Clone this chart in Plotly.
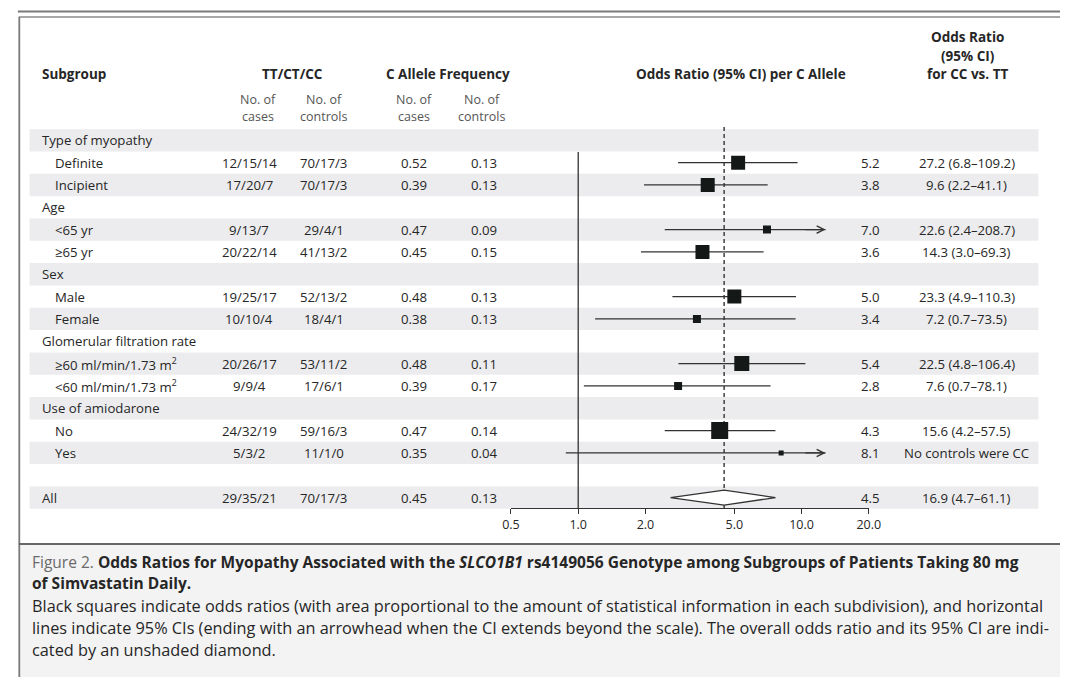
import math
import plotly.graph_objects as go

W, H = 1072, 677

# ---------------- data ----------------
subgroups = ["Type of myopathy", "Definite", "Incipient", "Age", "<65 yr", "≥65 yr",
             "Sex", "Male", "Female", "Glomerular filtration rate",
             "≥60 ml/min/1.73 m<sup>2</sup>", "<60 ml/min/1.73 m<sup>2</sup>",
             "Use of amiodarone", "No", "Yes", "", "All"]
is_header = [True, False, False, True, False, False, True, False, False, True,
             False, False, True, False, False, True, True]
tt_cases = ["", "12/15/14", "17/20/7", "", "9/13/7", "20/22/14", "", "19/25/17", "10/10/4",
            "", "20/26/17", "9/9/4", "", "24/32/19", "5/3/2", "", "29/35/21"]
tt_controls = ["", "70/17/3", "70/17/3", "", "29/4/1", "41/13/2", "", "52/13/2", "18/4/1",
               "", "53/11/2", "17/6/1", "", "59/16/3", "11/1/0", "", "70/17/3"]
freq_cases = ["", "0.52", "0.39", "", "0.47", "0.45", "", "0.48", "0.38",
              "", "0.48", "0.39", "", "0.47", "0.35", "", "0.45"]
freq_controls = ["", "0.13", "0.13", "", "0.09", "0.15", "", "0.13", "0.13",
                 "", "0.11", "0.17", "", "0.14", "0.04", "", "0.13"]
or_allele = [None, 5.2, 3.8, None, 7.0, 3.6, None, 5.0, 3.4, None, 5.4, 2.8, None, 4.3, 8.1, None, 4.5]
ci_low = [None, 2.8, 1.97, None, 2.44, 1.91, None, 2.64, 1.19, None, 2.81, 1.06, None, 2.44, 0.88, None, 2.59]
ci_high = [None, 9.6, 7.05, None, 12.8, 6.76, None, 9.44, 9.4, None, 10.4, 7.26, None, 7.64, 12.8, None, 7.64]
ci_arrow = [False, False, False, False, True, False, False, False, False, False,
            False, False, False, False, True, False, False]
square_size = [0, 14, 14, 0, 8, 14, 0, 14, 8, 0, 15, 8, 0, 17, 5, 0, 0]
or_cc = ["", "27.2 (6.8–109.2)", "9.6 (2.2–41.1)", "", "22.6 (2.4–208.7)", "14.3 (3.0–69.3)", "",
         "23.3 (4.9–110.3)", "7.2 (0.7–73.5)", "", "22.5 (4.8–106.4)", "7.6 (0.7–78.1)", "",
         "15.6 (4.2–57.5)", "No controls were CC", "", "16.9 (4.7–61.1)"]
tick_vals = [0.5, 1.0, 2.0, 5.0, 10.0, 20.0]
tick_text = ["0.5", "1.0", "2.0", "5.0", "10.0", "20.0"]

# ---------------- geometry helpers ----------------
ROW0, ROWH = 140.3, 22.33
AX_BOTTOM = 508
def px(x): return x / W
def py(y): return 1 - y / H
def row_pix(i): return ROW0 + ROWH * i
def pix_row(p): return (p - ROW0) / ROWH

FONT = "Open Sans"
TXT = "#262626"
n = len(subgroups)
summary = n - 1

fig = go.Figure()

# CI lines
xs, ys = [], []
for i in range(n):
    if or_allele[i] is None or i == summary:
        continue
    xs += [ci_low[i], ci_high[i], None]
    ys += [i, i, None]
fig.add_trace(go.Scatter(x=xs, y=ys, mode="lines", line=dict(color="#333333", width=1.3),
                         hoverinfo="skip", showlegend=False))

# reference line at 1.0 and dashed line at overall OR
fig.add_trace(go.Scatter(x=[1.0, 1.0], y=[pix_row(152), pix_row(AX_BOTTOM)], mode="lines",
                         line=dict(color="#333333", width=1.3), showlegend=False, hoverinfo="skip"))
fig.add_trace(go.Scatter(x=[or_allele[summary]] * 2, y=[pix_row(127), pix_row(AX_BOTTOM)], mode="lines",
                         line=dict(color="#333333", width=1.4, dash="4px,3px"), showlegend=False, hoverinfo="skip"))

# squares
sq_idx = [i for i in range(n) if or_allele[i] is not None and i != summary]
fig.add_trace(go.Scatter(x=[or_allele[i] for i in sq_idx], y=sq_idx, mode="markers",
                         marker=dict(symbol="square", size=[square_size[i] for i in sq_idx],
                                     color="#141918", opacity=1, line=dict(width=0)),
                         showlegend=False, hoverinfo="skip"))

# diamond for overall
hd = 7.5 / ROWH
fig.add_trace(go.Scatter(x=[ci_low[summary], or_allele[summary], ci_high[summary], or_allele[summary], ci_low[summary]],
                         y=[summary, summary - hd, summary, summary + hd, summary],
                         mode="lines", fill="toself", fillcolor="white",
                         line=dict(color="#333333", width=1.3), showlegend=False, hoverinfo="skip"))

annotations = []
# arrowheads
for i in range(n):
    if ci_arrow[i]:
        annotations.append(dict(x=math.log10(ci_high[i]), y=i, xref="x", yref="y",
                                ax=math.log10(ci_high[i] * 0.8), ay=i, axref="x", ayref="y",
                                text="", showarrow=True, arrowhead=5, arrowsize=1.1,
                                arrowwidth=1.3, arrowcolor="#333333", standoff=0, startstandoff=0))

def txt(x, y, s, size=13, color=TXT, xanchor="left", bold=False, yanchor="middle", family=FONT):
    if bold:
        s = "<b>" + s + "</b>"
    annotations.append(dict(x=px(x), y=py(y), xref="paper", yref="paper", text=s, showarrow=False,
                            xanchor=xanchor, yanchor=yanchor,
                            font=dict(family=family, size=size, color=color)))

# headers
HS = 13.5
txt(32, 74, "Subgroup", HS, bold=True)
txt(289, 74, "TT/CT/CC", HS, xanchor="center", bold=True)
txt(448, 74, "C Allele Frequency", HS, xanchor="center", bold=True)
txt(747, 74, "Odds Ratio (95% CI) per C Allele", HS, xanchor="center", bold=True)
txt(978, 37, "Odds Ratio", HS, xanchor="center", bold=True)
txt(978, 56, "(95% CI)", HS, xanchor="center", bold=True)
txt(978, 74, "for CC vs. TT", HS, xanchor="center", bold=True)
for cx, l2 in [(254, "cases"), (321, "controls"), (413, "cases"), (482, "controls")]:
    txt(cx, 99, "No. of", 12.5, color="#555555", xanchor="center")
    txt(cx, 116, l2, 12.5, color="#555555", xanchor="center")

# table rows
RS = 13.2
for i in range(n):
    yy = row_pix(i)
    if subgroups[i]:
        txt(32 if is_header[i] else 45, yy, subgroups[i], RS)
    if tt_cases[i]:
        txt(245, yy, tt_cases[i], RS, xanchor="center")
        txt(321, yy, tt_controls[i], RS, xanchor="center")
        txt(413, yy, freq_cases[i], RS, xanchor="center")
        txt(485, yy, freq_controls[i], RS, xanchor="center")
    if or_allele[i] is not None:
        txt(879, yy, f"{or_allele[i]:.1f}", RS, xanchor="center")
        txt(977, yy, or_cc[i], RS, xanchor="center")

# caption
CAP = 16.3
TIT = 15.5
txt(21, 562, "<span style='color:#6a6a6a'>Figure 2.</span> <b>Odds Ratios for Myopathy Associated with the "
    "<i>SLCO1B1</i> rs4149056 Genotype among Subgroups of Patients Taking 80 mg</b>", TIT)
txt(21, 583, "<b>of Simvastatin Daily.</b>", TIT)
txt(21, 606, "Black squares indicate odds ratios (with area proportional to the amount of statistical "
    "information in each subdivision), and horizontal", CAP)
txt(21, 628, "lines indicate 95% CIs (ending with an arrowhead when the CI extends beyond the scale). "
    "The overall odds ratio and its 95% CI are indi-", CAP)
txt(21, 650, "cated by an unshaded diamond.", CAP)

shapes = []
# stripes
for i in range(n):
    if i % 2 == 0:
        shapes.append(dict(type="rect", xref="paper", yref="paper", x0=px(21), x1=px(1050),
                           y0=py(row_pix(i) - ROWH / 2), y1=py(row_pix(i) + ROWH / 2),
                           fillcolor="#ececee", line=dict(width=0), layer="below"))
# caption background
shapes.append(dict(type="rect", xref="paper", yref="paper", x0=px(10), x1=1, y0=0, y1=py(544),
                   fillcolor="#f3f3f3", line=dict(width=0), layer="below"))
# frame lines
shapes.append(dict(type="line", xref="paper", yref="paper", x0=px(9), x1=1, y0=py(11.5), y1=py(11.5),
                   line=dict(color="#7a7a7a", width=2)))
shapes.append(dict(type="line", xref="paper", yref="paper", x0=px(10), x1=1, y0=py(17), y1=py(17),
                   line=dict(color="#8a8a8a", width=1.5)))
shapes.append(dict(type="line", xref="paper", yref="paper", x0=px(10.5), x1=px(10.5), y0=py(17), y1=0,
                   line=dict(color="#7a7a7a", width=1.8)))
shapes.append(dict(type="line", xref="paper", yref="paper", x0=px(10), x1=1, y0=py(544), y1=py(544),
                   line=dict(color="#666666", width=1.8)))

fig.update_layout(
    width=W, height=H, autosize=False, margin=dict(l=0, r=0, t=0, b=0),
    paper_bgcolor="white", plot_bgcolor="rgba(0,0,0,0)",
    showlegend=False, annotations=annotations, shapes=shapes,
    xaxis=dict(type="log", domain=[px(512), px(877)],
               range=[math.log10(tick_vals[0]), math.log10(tick_vals[-1])],
               tickvals=tick_vals, ticktext=tick_text, ticks="outside", ticklen=5,
               tickcolor="#333333", tickwidth=1.2, showline=True, linecolor="#333333", linewidth=1.3,
               showgrid=False, zeroline=False, tickfont=dict(family=FONT, size=12.5, color=TXT),
               fixedrange=True),
    yaxis=dict(domain=[py(AX_BOTTOM), 1], range=[pix_row(AX_BOTTOM), pix_row(0)],
               visible=False, fixedrange=True),
)

fig.write_html("out.html", config={"displayModeBar": False, "responsive": False},
               post_script="document.documentElement.style.overflow='hidden';"
                           "document.body.style.margin='0px';document.body.style.padding='0px';"
                           "document.body.style.overflow='hidden';")
